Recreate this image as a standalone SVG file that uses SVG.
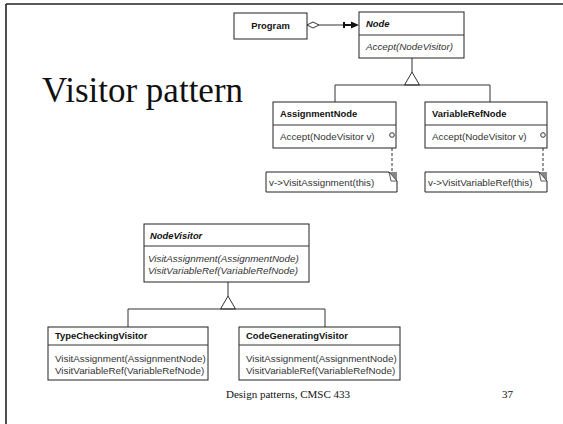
<svg xmlns="http://www.w3.org/2000/svg" width="563" height="424" viewBox="0 0 563 424">
<style>
.box{fill:#fff;stroke:#222;stroke-width:1}
.ln{fill:none;stroke:#333;stroke-width:1}
.t{font-family:"Liberation Sans",Arial,sans-serif;font-size:9.8px;fill:#333}
.b{font-family:"Liberation Sans",Arial,sans-serif;font-size:9.4px;font-weight:bold;fill:#111}
.i{font-style:italic}
.serif{font-family:"Liberation Serif","Times New Roman",serif;fill:#111}
</style>
<!-- page border -->
<g id="page">
<line x1="6" y1="4" x2="563" y2="4" stroke="#222" stroke-width="1.6"/>
<line x1="6" y1="4" x2="6" y2="424" stroke="#222" stroke-width="1.6"/>
</g>
<text class="serif" x="42" y="102" font-size="35">Visitor pattern</text>

<g id="connectors">
<!-- Program to Node -->
<polygon points="307,25 313,22 319,25 313,28" fill="#fff" stroke="#333" stroke-width="1"/>
<line x1="319" y1="25" x2="344" y2="25" class="ln"/>
<rect x="343" y="22" width="2" height="6" fill="#111"/>
<line x1="345" y1="25" x2="352" y2="25" stroke="#111" stroke-width="2"/>
<polygon points="351,21.5 359,25 351,28.5" fill="#111"/>
<!-- Node inheritance -->
<line x1="412" y1="58" x2="412" y2="72" class="ln"/>
<polygon points="412,72 404.5,85 419.5,85" fill="#fff" stroke="#333"/>
<polyline points="335,102 335,85 490,85 490,102" class="ln"/>
<!-- notes -->
<line x1="392" y1="138" x2="392" y2="172" class="ln" stroke-dasharray="3,2"/>
<line x1="543" y1="138" x2="543" y2="172" class="ln" stroke-dasharray="3,2"/>
<!-- NodeVisitor inheritance -->
<line x1="228" y1="282" x2="228" y2="296" class="ln"/>
<polygon points="228,296 220.5,309 235.5,309" fill="#fff" stroke="#333"/>
<polyline points="128,327 128,309 325,309 325,327" class="ln"/>
</g>

<g id="program">
<rect class="box" x="234" y="13" width="73" height="26"/>
<text class="b" x="270.5" y="29" text-anchor="middle" font-size="10">Program</text>
</g>

<g id="node">
<rect class="box" x="359" y="12" width="105" height="46"/>
<line x1="359" y1="35" x2="464" y2="35" class="ln"/>
<text class="b i" x="366" y="27">Node</text>
<text class="t i" x="366" y="50">Accept(NodeVisitor)</text>
</g>

<g id="assignmentNode">
<rect class="box" x="273" y="102" width="123" height="46"/>
<line x1="273" y1="125" x2="396" y2="125" class="ln"/>
<text class="b" x="280" y="117">AssignmentNode</text>
<text class="t" x="280" y="140">Accept(NodeVisitor v)</text>
<circle cx="392" cy="135" r="2.3" fill="#fff" stroke="#333"/>
</g>

<g id="variableRefNode">
<rect class="box" x="425" y="102" width="122" height="46"/>
<line x1="425" y1="125" x2="547" y2="125" class="ln"/>
<text class="b" x="432" y="117">VariableRefNode</text>
<text class="t" x="432" y="140">Accept(NodeVisitor v)</text>
<circle cx="543" cy="135" r="2.3" fill="#fff" stroke="#333"/>
</g>

<g id="noteAssignment">
<path class="box" d="M266,172 H389 L397,181 V192 H266 Z"/>
<polygon points="389,172 397,172 397,181" fill="#888"/>
<polygon points="389,172 391,181 397,181" fill="#fff" stroke="#333" stroke-width="0.8"/>
<text class="t" x="269" y="186">v-&gt;VisitAssignment(this)</text>
</g>

<g id="noteVariableRef">
<path class="box" d="M425,172 H539 L547,181 V192 H425 Z"/>
<polygon points="539,172 547,172 547,181" fill="#888"/>
<polygon points="539,172 541,181 547,181" fill="#fff" stroke="#333" stroke-width="0.8"/>
<text class="t" x="428" y="186">v-&gt;VisitVariableRef(this)</text>
</g>

<g id="nodeVisitor">
<rect class="box" x="144" y="224" width="165" height="58"/>
<line x1="144" y1="246" x2="309" y2="246" class="ln"/>
<text class="b i" x="150" y="239">NodeVisitor</text>
<text class="t i" x="148" y="262">VisitAssignment(AssignmentNode)</text>
<text class="t i" x="148" y="274">VisitVariableRef(VariableRefNode)</text>
</g>

<g id="typeCheckingVisitor">
<rect class="box" x="48" y="327" width="160" height="53"/>
<line x1="48" y1="345" x2="208" y2="345" class="ln"/>
<text class="b" x="55" y="339">TypeCheckingVisitor</text>
<text class="t" x="55" y="362">VisitAssignment(AssignmentNode)</text>
<text class="t" x="55" y="374">VisitVariableRef(VariableRefNode)</text>
</g>

<g id="codeGeneratingVisitor">
<rect class="box" x="239" y="327" width="161" height="53"/>
<line x1="239" y1="345" x2="400" y2="345" class="ln"/>
<text class="b" x="246" y="339">CodeGeneratingVisitor</text>
<text class="t" x="246" y="362">VisitAssignment(AssignmentNode)</text>
<text class="t" x="246" y="374">VisitVariableRef(VariableRefNode)</text>
</g>

<text class="serif" x="226" y="398" font-size="11">Design patterns, CMSC 433</text>
<text class="serif" x="502" y="398" font-size="11">37</text>
</svg>
